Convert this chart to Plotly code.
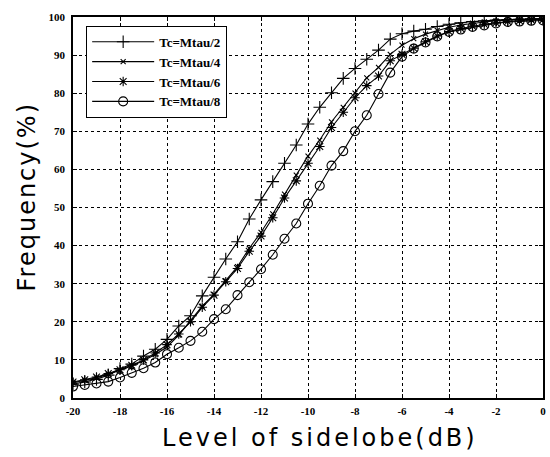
import plotly.graph_objects as go

# Sidelobe level (dB), sampled every 0.5 dB
level_db = [-20 + 0.5 * i for i in range(41)]

# Cumulative frequency (%) for each chip duration
freq_mtau2 = [3.6, 4.2, 4.9, 6.0, 7.7, 8.9, 11.0, 12.8, 15.4, 18.9, 21.6, 26.8, 31.7,
              36.5, 41.0, 47.0, 52.0, 56.8, 61.6, 66.4, 71.9, 76.3, 80.1, 83.9, 86.5,
              88.9, 91.3, 94.2, 95.6, 96.3, 96.8, 97.5, 98.1, 98.5, 98.8, 99.0, 99.2,
              99.3, 99.4, 99.5, 99.5]
freq_mtau4 = [4.0, 4.6, 5.3, 6.2, 7.2, 8.4, 9.8, 11.4, 13.4, 16.5, 20.3, 24.1, 27.2,
              30.8, 34.5, 39.3, 43.5, 48.3, 53.5, 58.5, 63.5, 67.7, 72.5, 76.3, 80.0,
              84.0, 86.8, 90.2, 92.6, 94.3, 95.5, 96.5, 97.3, 97.9, 98.4, 98.7, 99.0,
              99.2, 99.3, 99.4, 99.5]
freq_mtau6 = [4.2, 4.8, 5.5, 6.4, 7.4, 8.6, 10.0, 11.8, 14.0, 16.8, 20.0, 23.8, 27.0,
              30.5, 34.0, 38.5, 42.5, 47.3, 52.5, 57.0, 61.6, 66.0, 71.0, 75.0, 78.8,
              82.0, 84.5, 88.5, 90.2, 91.8, 93.5, 95.0, 96.2, 97.0, 97.6, 98.1, 98.5,
              98.8, 99.0, 99.2, 99.3]
freq_mtau8 = [3.0, 3.4, 3.8, 4.3, 5.4, 6.6, 7.8, 9.3, 11.5, 13.2, 15.0, 17.4, 20.7,
              23.3, 27.0, 30.4, 33.8, 37.6, 41.8, 45.8, 51.0, 55.7, 61.0, 64.8, 70.0,
              74.2, 79.8, 85.4, 89.6, 91.7, 93.3, 94.9, 96.1, 96.7, 97.4, 97.8, 98.3,
              98.7, 98.8, 99.0, 99.1]

series_names = ["Tc=Mtau/2", "Tc=Mtau/4", "Tc=Mtau/6", "Tc=Mtau/8"]

x_tick_vals = list(range(-20, 1, 2))
x_tick_text = ["-20", "-18", "-16", "-14", "-12", "-10", "-8", "-6", "-4", "-2", "0"]
y_tick_vals = list(range(0, 101, 10))
y_tick_text = ["0", "10", "20", "30", "40", "50", "60", "70", "80", "90", "100"]

styles = [
    dict(symbol="cross-thin-open", size=9),
    dict(symbol="x-thin-open", size=5),
    dict(symbol="asterisk-open", size=8),
    dict(symbol="circle-open", size=9),
]

fig = go.Figure()
for name, ys, st in zip(series_names, [freq_mtau2, freq_mtau4, freq_mtau6, freq_mtau8], styles):
    fig.add_trace(go.Scatter(
        x=level_db, y=ys, name=name, mode="lines+markers",
        line=dict(color="black", width=1.1),
        marker=dict(symbol=st["symbol"], size=st["size"], color="black",
                    line=dict(color="black", width=1.1)),
    ))

tick_font = dict(family="Liberation Serif", size=11, color="black", weight="bold")

fig.update_xaxes(
    range=[-20, 0], tickvals=x_tick_vals, ticktext=x_tick_text, tickfont=tick_font,
    showgrid=True, gridcolor="black", griddash="dot", gridwidth=1,
    showline=True, linecolor="black", linewidth=1.5, mirror="allticks",
    ticks="inside", ticklen=4, tickcolor="black", zeroline=False, ticklabelstandoff=2,
)
fig.update_yaxes(
    range=[0, 100], tickvals=y_tick_vals, ticktext=y_tick_text, tickfont=tick_font,
    showgrid=True, gridcolor="black", griddash="dot", gridwidth=1,
    showline=True, linecolor="black", linewidth=1.5, mirror="allticks",
    ticks="inside", ticklen=4, tickcolor="black", zeroline=False, ticklabelstandoff=4,
)

fig.update_layout(
    width=550, height=457,
    margin=dict(l=73, r=4, t=17, b=59),
    paper_bgcolor="white", plot_bgcolor="white",
    showlegend=True,
    legend=dict(
        x=0.028, y=0.977, xanchor="left", yanchor="top",
        bgcolor="white", bordercolor="black", borderwidth=1,
        font=dict(family="Liberation Serif", size=13, color="black", weight="bold"),
        itemwidth=62, tracegroupgap=0,
    ),
    annotations=[
        dict(text='<span style="letter-spacing:3px">Level of sidelobe(dB)</span>',
             xref="paper", yref="paper",
             x=0.525, y=-0.105, xanchor="center", yanchor="middle", showarrow=False,
             font=dict(family="DejaVu Sans", size=24, color="black")),
        dict(text='<span style="letter-spacing:2px">Frequency(%)</span>',
             xref="paper", yref="paper",
             x=-0.097, y=0.53, xanchor="center", yanchor="middle", showarrow=False,
             textangle=-90,
             font=dict(family="DejaVu Sans", size=24, color="black")),
    ],
)

fig.write_html("out.html")
